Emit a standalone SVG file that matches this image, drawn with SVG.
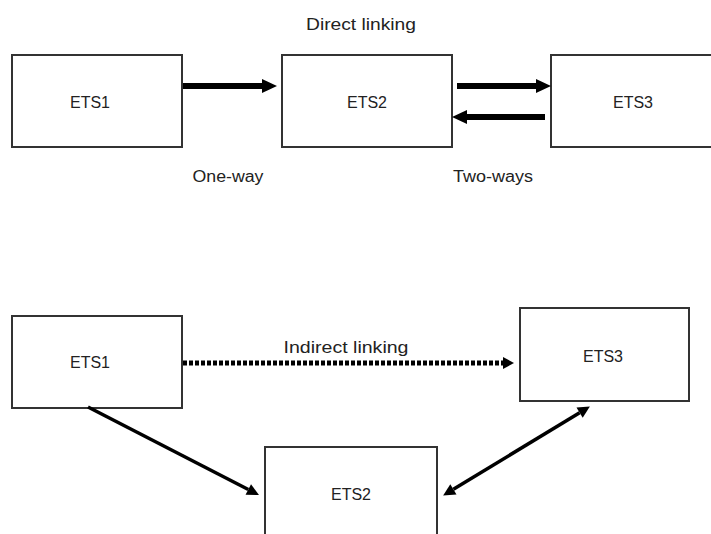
<svg xmlns="http://www.w3.org/2000/svg" width="711" height="534" viewBox="0 0 711 534">
<style>
.box{fill:#fff;stroke:#333;stroke-width:2}
.lbl{font-family:"Liberation Sans",Arial,sans-serif;font-size:16px;fill:#222;text-anchor:middle}
.cap{font-family:"Liberation Sans",Arial,sans-serif;font-size:16px;fill:#222;text-anchor:middle}
.thick{stroke:#000;stroke-width:6;fill:none}
.mid{stroke:#000;stroke-width:3.5;fill:none}
.dot{stroke:#000;stroke-width:5;stroke-dasharray:4 2;fill:none}
</style>
<defs>
<marker id="bigHead" markerUnits="userSpaceOnUse" markerWidth="16" markerHeight="16" viewBox="0 -8 16 16" refX="0" refY="0" orient="auto-start-reverse" overflow="visible">
<path d="M0,-7 L15,0 L0,7 z" fill="#000"/>
</marker>
<marker id="smallHead" markerUnits="userSpaceOnUse" markerWidth="14" markerHeight="14" viewBox="0 -7 14 14" refX="0" refY="0" orient="auto-start-reverse" overflow="visible">
<path d="M0,-6 L12,0 L0,6 z" fill="#000"/>
</marker>
<marker id="dotHead" markerUnits="userSpaceOnUse" markerWidth="14" markerHeight="14" viewBox="0 -7 14 14" refX="0" refY="0" orient="auto" overflow="visible">
<path d="M0,-6 L11,0 L0,6 z" fill="#000"/>
</marker>
</defs>

<text class="cap" x="361" y="30" textLength="110" lengthAdjust="spacingAndGlyphs">Direct linking</text>

<g id="top-ets1"><rect class="box" x="12" y="55" width="170" height="92"/><text class="lbl" x="90" y="108">ETS1</text></g>
<g id="top-ets2"><rect class="box" x="282" y="55" width="170" height="92"/><text class="lbl" x="367" y="108">ETS2</text></g>
<g id="top-ets3"><rect class="box" x="551" y="55" width="200" height="92"/><text class="lbl" x="633" y="108">ETS3</text></g>

<text class="cap" x="228" y="182" textLength="71" lengthAdjust="spacingAndGlyphs">One-way</text>
<text class="cap" x="493" y="182" textLength="80" lengthAdjust="spacingAndGlyphs">Two-ways</text>

<g id="bot-ets1"><rect class="box" x="12" y="316" width="170" height="92"/><text class="lbl" x="90" y="368">ETS1</text></g>
<g id="bot-ets3"><rect class="box" x="520" y="308" width="169" height="93"/><text class="lbl" x="603" y="362">ETS3</text></g>
<g id="bot-ets2"><rect class="box" x="265" y="447" width="172" height="100"/><text class="lbl" x="351" y="500">ETS2</text></g>

<text class="cap" x="346" y="353" textLength="125" lengthAdjust="spacingAndGlyphs">Indirect linking</text>

<g id="connectors">
<line class="thick" x1="183" y1="86" x2="262" y2="86" marker-end="url(#bigHead)"/>
<line class="thick" x1="457" y1="86" x2="536" y2="86" marker-end="url(#bigHead)"/>
<line class="thick" x1="545" y1="117" x2="467" y2="117" marker-end="url(#bigHead)"/>
<line class="dot" x1="183" y1="363" x2="503" y2="363" marker-end="url(#dotHead)"/>
<line class="mid" x1="88" y1="407" x2="248.3" y2="489.5" marker-end="url(#smallHead)"/>
<line class="mid" x1="453.4" y1="489.3" x2="579.6" y2="412.7" marker-start="url(#smallHead)" marker-end="url(#smallHead)"/>
</g>
</svg>
